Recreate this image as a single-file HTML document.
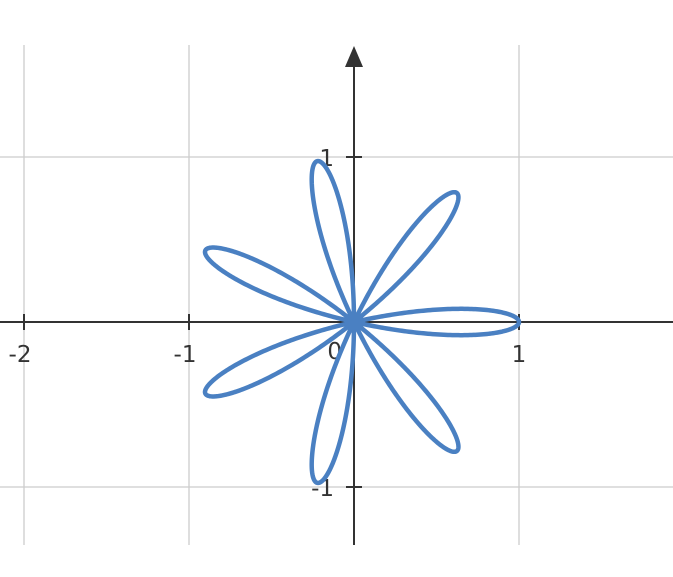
<!DOCTYPE html>
<html><head><meta charset="utf-8"><style>
body{margin:0;background:#fff;width:673px;height:572px;overflow:hidden}
text{font-family:"DejaVu Sans","Liberation Sans",sans-serif;font-size:23px;fill:#333}
</style></head><body>
<svg id="chart" width="673" height="572" xmlns="http://www.w3.org/2000/svg">
<g id="grid"></g>
<g id="axes"></g>
<g id="plot"></g>
</svg>
<script>
const xTicks=[-2,-1,1];
const yTicks=[-1,1];
const xTickLabels=["-2","-1","1"];
const yTickLabels=["-1","1"];
const petalCount=[7];
const amplitude=[1];
const NS="http://www.w3.org/2000/svg";
const ox=354, oy=322, unit=165;
const X=v=>ox+v*unit, Y=v=>oy-v*unit;
function mk(tag,attrs,parent){const e=document.createElementNS(NS,tag);for(const k in attrs)e.setAttribute(k,attrs[k]);parent.appendChild(e);return e;}
const grid=document.getElementById('grid'),axes=document.getElementById('axes'),plot=document.getElementById('plot');
xTicks.forEach((t,i)=>{
  const l=mk('line',{x1:X(t),x2:X(t),y1:45,y2:545,stroke:'#ccc','stroke-width':1.3},grid);
  
  
  const tk=mk('line',{x1:X(t),x2:X(t),y1:oy-8,y2:oy+8,stroke:'#333','stroke-width':2},axes);
  
  
  const tx=mk('text',{x:X(t)-(t<0?4:0),y:oy+40,'text-anchor':'middle'},axes);tx.textContent=xTickLabels[i];
  
  
});
yTicks.forEach((t,i)=>{
  const l=mk('line',{x1:0,x2:673,y1:Y(t),y2:Y(t),stroke:'#ccc','stroke-width':1.3},grid);
  
  
  const tk=mk('line',{x1:ox-8,x2:ox+8,y1:Y(t),y2:Y(t),stroke:'#333','stroke-width':2},axes);
  
  
  const tx=mk('text',{x:ox-20,y:Y(t)+9,'text-anchor':'end'},axes);tx.textContent=yTickLabels[i];
  
  
});
const xa=mk('line',{x1:0,x2:673,y1:oy,y2:oy,stroke:'#333','stroke-width':2},axes);

const ya=mk('line',{x1:ox,x2:ox,y1:60,y2:545,stroke:'#333','stroke-width':2},axes);

const ar=mk('path',{d:`M${ox} 46 L${ox-9} 67 L${ox+9} 67 Z`,fill:'#333'},axes);

const zt=mk('text',{x:ox-12,y:oy+37,'text-anchor':'end'},axes);zt.textContent='0';

let d='';const N=1400;
for(let i=0;i<=N;i++){const th=Math.PI*i/N;const r=amplitude[0]*Math.cos(petalCount[0]*th);
  d+=(i?'L':'M')+X(r*Math.cos(th)).toFixed(2)+' '+Y(r*Math.sin(th)).toFixed(2);}
const p=mk('path',{d:d+'Z',fill:'none',stroke:'#4a80c2','stroke-width':4.5,'stroke-linejoin':'round'},plot);


</script>
</body></html>
